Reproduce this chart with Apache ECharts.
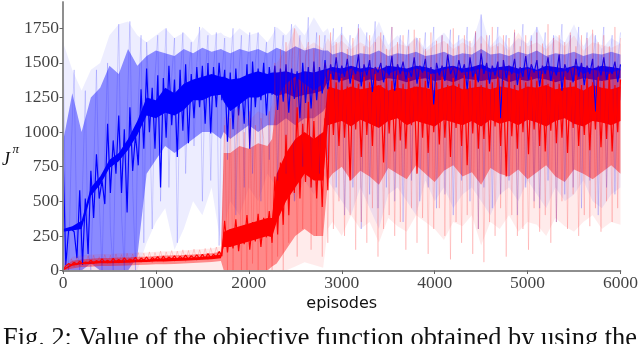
<!DOCTYPE html>
<html>
<head>
<meta charset="utf-8">
<script src="https://cdn.jsdelivr.net/npm/echarts@6/dist/echarts.min.js"></script>
<style>
html, body { margin: 0; background: #fff; }
#chart { width: 640px; height: 344px; }
</style>
</head>
<body>
<div id="chart"></div>
<script>
// axis ticks
const xTicks = [0, 1000, 2000, 3000, 4000, 5000, 6000]
const yTicks = [0, 250, 500, 750, 1000, 1250, 1500, 1750]

// episodes where the shaded bands are sampled
const bandEpisodes = [0, 100, 200, 300, 400, 500, 600, 700, 800, 900, 1000, 1100, 1200, 1300, 1400, 1500, 1600, 1700,
    1730, 1800, 1900, 2000, 2100, 2200, 2250, 2300, 2400, 2500, 2600, 2700, 2800, 2850,
    2900, 3000, 3100, 3200, 3300, 3400, 3500, 3600, 3700, 3800, 3900, 4000, 4100, 4200, 4300, 4400,
    4500, 4600, 4700, 4800, 4900, 5000, 5100, 5200, 5300, 5400, 5500, 5600, 5700, 5800, 5900, 6000]

// blue run: min/max envelope, spread band, dense core
const blueOuterHi = [1650, 1450, 1300, 1450, 1500, 1700, 1780, 1800, 1700, 1650, 1700, 1750, 1680, 1720, 1650, 1760, 1700, 1720,
    1700, 1680, 1750, 1700, 1720, 1650, 1700, 1760, 1700, 1780, 1700, 1830, 1720, 1750,
    1640, 1720, 1620, 1760, 1650, 1800, 1630, 1700, 1620, 1690, 1600, 1660, 1720, 1630, 1680, 1640,
    1850, 1620, 1700, 1610, 1680, 1640, 1760, 1620, 1700, 1650, 1780, 1620, 1720, 1600, 1680, 1640]
const blueOuterLo = [0, 0, 0, 0, 0, 0, 0, 0, 0, 200, 350, 450, 150, 300, 500, 400, 600, 180,
    300, 500, 400, 600, 500, 700, 650, 600, 700, 500, 650, 550, 700, 650,
    600, 500, 400, 600, 450, 300, 550, 600, 500, 400, 650, 500, 600, 450, 550, 600,
    500, 400, 550, 600, 500, 650, 550, 450, 600, 500, 550, 650, 500, 450, 550, 600]
const blueMidHi = [930, 1280, 1000, 1250, 1320, 1480, 1420, 1600, 1480, 1550, 1590, 1570, 1550, 1600, 1570, 1610, 1580, 1600,
    1590, 1570, 1600, 1580, 1600, 1570, 1590, 1610, 1580, 1620, 1590, 1610, 1590, 1590,
    1560, 1580, 1550, 1570, 1560, 1590, 1550, 1570, 1560, 1580, 1550, 1560, 1580, 1550, 1570, 1560,
    1600, 1560, 1570, 1550, 1580, 1560, 1590, 1550, 1570, 1560, 1580, 1550, 1570, 1560, 1580, 1560]
const blueMidLo = [0, 0, 0, 50, 0, 0, 0, 0, 100, 700, 800, 900, 850, 900, 950, 1000, 1000, 950,
    1000, 950, 1000, 1050, 1000, 1050, 1050, 1050, 1100, 1050, 1100, 1100, 1150, 1200,
    1200, 1220, 1200, 1240, 1210, 1200, 1230, 1240, 1210, 1200, 1230, 1220, 1200, 1240, 1210, 1230,
    1200, 1220, 1240, 1210, 1200, 1230, 1220, 1240, 1200, 1210, 1230, 1200, 1240, 1220, 1210, 1230]
const blueCoreHi = [300, 320, 360, 600, 680, 800, 850, 950, 1080, 1250, 1230, 1320, 1280, 1350, 1380, 1400, 1420, 1400,
    1400, 1380, 1390, 1420, 1440, 1420, 1430, 1430, 1440, 1420, 1440, 1430, 1450, 1460,
    1470, 1460, 1480, 1460, 1470, 1450, 1480, 1470, 1460, 1480, 1470, 1450, 1470, 1480, 1460, 1470,
    1490, 1460, 1470, 1480, 1460, 1470, 1450, 1480, 1470, 1460, 1480, 1470, 1460, 1480, 1470, 1460]
const blueCoreLo = [280, 290, 300, 540, 620, 740, 790, 870, 980, 1120, 1100, 1140, 1120, 1160, 1230, 1230, 1260, 1270,
    1220, 1150, 1200, 1250, 1250, 1280, 1280, 1260, 1280, 1250, 1270, 1280, 1300, 1370,
    1380, 1370, 1390, 1360, 1380, 1370, 1390, 1380, 1360, 1380, 1390, 1370, 1380, 1360, 1390, 1380,
    1370, 1380, 1390, 1360, 1380, 1370, 1390, 1380, 1360, 1380, 1370, 1390, 1380, 1370, 1380, 1390]

// red run
const redOuterHi = [20, 100, 110, 115, 120, 120, 125, 125, 130, 130, 135, 140, 140, 145, 150, 155, 160, 175,
    1100, 1150, 1170, 1080, 1150, 1120, 1200, 1500, 1600, 1750, 1600, 1650, 1600, 1680,
    1620, 1660, 1600, 1650, 1610, 1700, 1590, 1640, 1620, 1680, 1580, 1630, 1660, 1600, 1650, 1610,
    1700, 1610, 1650, 1590, 1720, 1620, 1650, 1600, 1670, 1620, 1700, 1590, 1650, 1630, 1610, 1640]
const redOuterLo = [0, 0, 0, 0, 0, 0, 0, 0, 0, 0, 0, 0, 0, 0, 0, 0, 0, 0,
    0, 0, 0, 0, 0, 0, 0, 0, 0, 30, 60, 40, 20, 300,
    350, 250, 400, 300, 350, 200, 380, 320, 280, 400, 350, 300, 220, 350, 320, 400,
    180, 350, 300, 400, 280, 350, 330, 250, 380, 320, 280, 350, 400, 300, 350, 330]
const redMidHi = [15, 70, 80, 85, 90, 90, 95, 95, 100, 100, 105, 108, 110, 112, 115, 120, 125, 135,
    850, 850, 900, 880, 920, 900, 950, 1250, 1350, 1400, 1350, 1300, 1350, 1450,
    1440, 1420, 1460, 1430, 1450, 1470, 1420, 1450, 1430, 1460, 1440, 1420, 1450, 1470, 1430, 1440,
    1460, 1430, 1450, 1440, 1420, 1460, 1440, 1450, 1430, 1440, 1470, 1420, 1450, 1440, 1430, 1450]
const redMidLo = [0, 15, 25, 28, 32, 32, 35, 36, 40, 42, 45, 46, 48, 50, 54, 58, 62, 68,
    0, 0, 0, 0, 0, 0, 30, 50, 150, 250, 300, 250, 250, 650,
    700, 750, 650, 720, 680, 620, 740, 700, 660, 760, 700, 640, 720, 760, 680, 710,
    620, 740, 700, 680, 730, 660, 710, 760, 680, 640, 730, 700, 660, 710, 760, 700]
const redCoreHi = [10, 50, 60, 65, 70, 70, 75, 75, 80, 80, 85, 88, 90, 92, 95, 100, 105, 115,
    280, 300, 320, 340, 360, 380, 380, 700, 850, 950, 1000, 950, 1000, 1330,
    1320, 1300, 1330, 1310, 1320, 1340, 1300, 1320, 1310, 1330, 1320, 1300, 1320, 1340, 1310, 1320,
    1330, 1310, 1330, 1320, 1300, 1330, 1320, 1340, 1310, 1320, 1330, 1300, 1340, 1320, 1310, 1330]
const redCoreLo = [0, 35, 45, 48, 52, 52, 55, 56, 60, 62, 65, 66, 68, 70, 74, 78, 82, 88,
    170, 170, 190, 210, 230, 250, 240, 350, 500, 600, 700, 650, 650, 1050,
    1060, 1080, 1040, 1090, 1060, 1030, 1080, 1100, 1050, 1080, 1060, 1040, 1090, 1070, 1050, 1080,
    1040, 1090, 1060, 1080, 1050, 1090, 1070, 1040, 1080, 1100, 1060, 1040, 1080, 1070, 1050, 1080]

// objective per episode, one value every 30 episodes (0 ... 6000)
const blueLine = [
    870, 40, 290, 300, 280, 90, 580, 40, 520, 120,
    720, 380, 840, 520, 650, 480, 1060, 560, 940, 700,
    1120, 560, 1020, 420, 1180, 720, 980, 760, 1310, 880,
    1460, 1000, 1320, 880, 1410, 600, 1390, 960, 1480, 1050,
    1380, 820, 1450, 1010, 1490, 920, 1420, 1100, 1470, 1180,
    1480, 1060, 1500, 990, 1470, 1180, 1500, 1230, 1450, 930,
    1430, 1020, 1460, 1120, 1390, 1060, 1490, 880, 1510, 1180,
    1460, 1230, 1500, 1120, 1470, 1270, 1480, 1160, 1460, 1220,
    1490, 1140, 1460, 1240, 1440, 1100, 1500, 1210, 1470, 1170,
    1510, 1230, 1470, 1280, 1520, 1310, 1490, 1380, 1540, 1360,
    1480, 1400, 1530, 1350, 1470, 1420, 1560, 1330, 1490, 1410,
    1520, 1290, 1470, 1430, 1500, 1360, 1480, 1410, 1550, 1300,
    1490, 1420, 1510, 1380, 1460, 1400, 1540, 1350, 1480, 1430,
    1530, 1320, 1470, 1200, 1500, 1410, 1480, 1370, 1560, 1420,
    1470, 1380, 1520, 1430, 1490, 1310, 1540, 1400, 1460, 1360,
    1570, 1420, 1500, 1350, 1480, 1410, 1510, 1100, 1520, 1390,
    1480, 1420, 1530, 1340, 1470, 1400, 1550, 1380, 1490, 1430,
    1520, 1330, 1480, 1420, 1540, 1370, 1470, 1410, 1560, 1300,
    1490, 1430, 1470, 1360, 1530, 1400, 1500, 1340, 1480, 1420,
    1530, 1150, 1480, 1410, 1540, 1380, 1470, 1420, 1510, 1360,
    1490]
const redLine = [
    0, 35, 50, 38, 60, 42, 68, 48, 62, 52,
    75, 50, 72, 58, 85, 60, 74, 56, 88, 62,
    80, 62, 92, 66, 84, 72, 95, 64, 90, 74,
    98, 68, 94, 78, 100, 72, 104, 76, 98, 82,
    106, 78, 102, 84, 112, 80, 108, 88, 114, 84,
    118, 86, 122, 92, 116, 98, 138, 104, 360, 130,
    300, 160, 370, 140, 320, 190, 400, 150, 350, 210,
    410, 170, 380, 240, 430, 200, 680, 260, 780, 330,
    980, 400, 900, 560, 1180, 520, 1060, 640, 1220, 600,
    1080, 520, 980, 460, 1100, 580, 1420, 980, 1360, 900,
    1390, 960, 1330, 650, 1410, 1020, 1350, 820, 1400, 980,
    1360, 900, 1420, 1040, 1340, 780, 1390, 990, 1370, 860,
    1410, 940, 1350, 880, 1390, 1050, 1330, 700, 1400, 960,
    1370, 850, 1420, 1000, 1360, 910, 1400, 960, 1340, 820,
    1390, 1030, 1350, 900, 1410, 760, 1370, 990, 1420, 880,
    1340, 950, 1380, 860, 1360, 1040, 1400, 900, 1370, 680,
    1410, 970, 1340, 880, 1390, 1000, 1360, 840, 1400, 1020,
    1370, 900, 1420, 860, 1350, 1010, 1380, 920, 1350, 960,
    1400, 850, 1360, 1030, 1410, 900, 1340, 980, 1390, 870,
    1360, 1020, 1400, 890, 1370, 950, 1420, 860, 1340, 1000,
    1380]

// faint extremes of the runs, same episode grid
const blueSpikes = [
    1650, 300, 0, 900, 1450, 200, 0, 600, 1300, 150,
    0, 700, 1450, 500, 0, 850, 1500, 300, 0, 1000,
    1780, 400, 0, 1100, 1800, 600, 0, 1200, 1700, 200,
    1650, 1200, 300, 1400, 1700, 500, 1300, 1750, 600, 1400,
    1680, 200, 1350, 1720, 700, 1400, 1650, 900, 1500, 1760,
    500, 1400, 1700, 650, 1450, 1720, 180, 1400, 1680, 800,
    1450, 1750, 400, 1400, 1700, 600, 1450, 1720, 700, 1500,
    1720, 500, 1450, 1650, 800, 1480, 1760, 650, 1450, 1700,
    700, 1500, 1780, 500, 1450, 1700, 750, 1480, 1830, 600,
    1450, 1720, 700, 1500, 1700, 800, 1500, 1750, 600, 1500,
    1760, 400, 1480, 1700, 600, 1500, 1780, 300, 1460, 1720,
    550, 1500, 1800, 450, 1480, 1700, 600, 1500, 1760, 500,
    1480, 1700, 350, 1500, 1740, 650, 1460, 1680, 500, 1500,
    1720, 600, 1480, 1760, 450, 1500, 1700, 550, 1480, 1740,
    400, 1500, 1700, 650, 1460, 1760, 500, 1480, 1720, 300,
    1850, 600, 1500, 1700, 450, 1480, 1760, 550, 1500, 1700,
    650, 1460, 1720, 400, 1500, 1780, 600, 1480, 1700, 500,
    1760, 450, 1500, 1720, 650, 1460, 1700, 350, 1480, 1780,
    550, 1500, 1700, 600, 1460, 1760, 450, 1500, 1720, 650,
    1480, 1700, 400, 1500, 1760, 600, 1460, 1700, 550, 1500,
    1720]
const redSpikes = [
    0, 70, 10, 85, 25, 95, 30, 100, 40, 105,
    35, 110, 45, 100, 40, 115, 50, 110, 45, 120,
    50, 115, 55, 125, 50, 120, 60, 130, 55, 125,
    60, 135, 55, 130, 65, 140, 60, 135, 70, 145,
    65, 140, 70, 150, 65, 145, 75, 155, 70, 150,
    80, 160, 75, 165, 85, 170, 90, 180, 1050, 0,
    1100, 0, 900, 1170, 0, 1000, 0, 1150, 50, 1050,
    0, 1100, 950, 0, 1150, 0, 1500, 100, 1600, 0,
    1650, 200, 1500, 1750, 100, 1600, 300, 1550, 1650, 150,
    1600, 250, 1700, 100, 1500, 200, 1720, 300, 1650, 500,
    1700, 250, 1600, 400, 1680, 150, 1750, 350, 1620, 200,
    1700, 450, 1650, 100, 1720, 300, 1600, 400, 1760, 250,
    1650, 350, 1700, 150, 1620, 450, 1740, 200, 1680, 380,
    1600, 120, 1720, 300, 1660, 450, 1700, 250, 1640, 80,
    1750, 350, 1620, 200, 1700, 400, 1660, 120, 1730, 300,
    1640, 60, 1700, 350, 1760, 250, 1620, 450, 1700, 100,
    1680, 400, 1740, 250, 1620, 300, 1700, 150, 1660, 450,
    1720, 280, 1640, 400, 1780, 200, 1680, 350, 1700, 500,
    1650, 300, 1720, 550, 1620, 250, 1700, 400, 1680, 320,
    1740, 450, 1650, 280, 1700, 500, 1620, 350, 1760, 450,
    1680]
const lineEpisodes = blueLine.map((_, i) => i * 30)

const Y_MIN = -7
const Y_MAX = 1940

const chart = echarts.init(document.getElementById('chart'), null, { renderer: 'canvas' })

// filled band between lo and hi, drawn through the axes
const band = (lo, hi, color) => ({
    type: 'custom',
    silent: true,
    data: [[0, 0]],
    renderItem: (params, api) => {
        const top = bandEpisodes.map((ep, i) => api.coord([ep, hi[i]]))
        const bottom = bandEpisodes.map((ep, i) => api.coord([ep, lo[i]])).reverse()
        return {
            type: 'polygon',
            shape: { points: top.concat(bottom) },
            style: { fill: color, stroke: null }
        }
    }
})

const line = (values, color, width) => ({
    type: 'line',
    showSymbol: false,
    silent: true,
    data: lineEpisodes.map((ep, i) => [ep, values[i]]),
    lineStyle: { color, width }
})

// tick labels placed through the scales (axisLabel ignores the serif face here)
const tickLabels = (data, position, distance, pick) => ({
    type: 'scatter',
    silent: true,
    symbolSize: 0,
    z: 20,
    data,
    label: {
        show: true, position, distance,
        formatter: p => String(p.value[pick]),
        fontFamily: 'Liberation Serif', fontSize: 17.5, color: '#111'
    }
})

const frame = { show: true, lineStyle: { color: '#888', width: 1.5 } }

chart.setOption({
    animation: false,
    grid: { left: 63, right: 19.5, top: 2, bottom: 72.5 },
    xAxis: [{
        type: 'value', min: 0, max: 6000, interval: 1000, z: 10,
        axisLine: frame,
        axisTick: { show: true, inside: false, length: 3.5, lineStyle: { color: '#666' }, customValues: xTicks },
        axisLabel: { show: false },
        splitLine: { show: false },
        name: 'episodes', nameLocation: 'middle', nameGap: 24,
        nameTextStyle: { fontFamily: 'DejaVu Sans', fontSize: 16, color: '#111' }
    }, {
        type: 'value', position: 'top', min: 0, max: 6000, z: 10,
        axisLine: frame, axisTick: { show: false }, axisLabel: { show: false }, splitLine: { show: false }
    }],
    yAxis: [{
        type: 'value', min: Y_MIN, max: Y_MAX, z: 10,
        axisLine: frame,
        axisTick: { show: true, inside: false, length: 3.5, lineStyle: { color: '#666' }, customValues: yTicks },
        axisLabel: { show: false },
        splitLine: { show: false }
    }, {
        type: 'value', position: 'right', min: Y_MIN, max: Y_MAX, z: 10,
        axisLine: frame, axisTick: { show: false }, axisLabel: { show: false }, splitLine: { show: false }
    }],
    graphic: [
        { type: 'text', left: 2, top: 151, style: { text: 'J', font: 'italic 18px "Liberation Serif"', fill: '#111' } },
        { type: 'text', left: 12.5, top: 143, style: { text: 'π', font: 'italic 13px "Liberation Serif"', fill: '#111' } },
        { type: 'text', left: 3, top: 326, style: { text: 'Fig. 2: Value of the objective function obtained by using the', font: '26.4px "Liberation Serif"', fill: '#111' } }
    ],
    series: [
        band(blueOuterLo, blueOuterHi, 'rgba(0,0,255,0.07)'),
        line(blueSpikes, 'rgba(0,0,255,0.16)', 1),
        band(blueMidLo, blueMidHi, 'rgba(0,0,255,0.42)'),
        band(blueCoreLo, blueCoreHi, '#0000ff'),
        line(blueLine, '#0000ff', 1.2),
        band(redOuterLo, redOuterHi, 'rgba(255,0,0,0.08)'),
        line(redSpikes, 'rgba(255,0,0,0.16)', 1),
        band(redMidLo, redMidHi, 'rgba(255,0,0,0.42)'),
        band(redCoreLo, redCoreHi, '#ff0000'),
        line(redLine, '#ff0000', 1.2),
        tickLabels(xTicks.map(v => [v, Y_MIN]), 'bottom', 3, 0),
        tickLabels(yTicks.map(v => [0, v]), 'left', 4, 1)
    ]
})
</script>
</body>
</html>
